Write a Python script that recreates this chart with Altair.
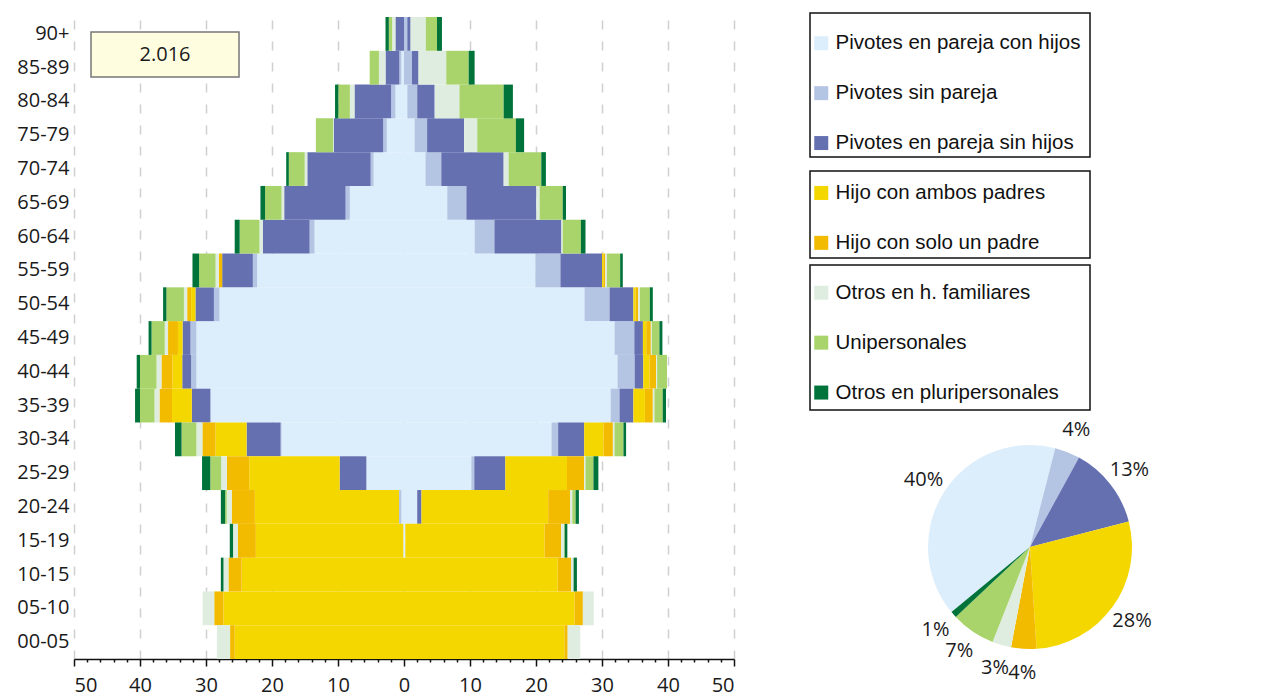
import math
import altair as alt
import pandas as pd

ages = ["90+", "85-89", "80-84", "75-79", "70-74", "65-69", "60-64", "55-59",
        "50-54", "45-49", "40-44", "35-39", "30-34", "25-29", "20-24", "15-19",
        "10-15", "05-10", "00-05"]

categories = ["Pivotes en pareja con hijos", "Pivotes sin pareja", "Pivotes en pareja sin hijos",
              "Hijo con ambos padres", "Hijo con solo un padre", "Otros en h. familiares",
              "Unipersonales", "Otros en pluripersonales"]
colors = ["#DCEDFB", "#B4C5E4", "#6570B1", "#F5D700", "#F2BB00", "#DFEDE1", "#A8D46B", "#00733A"]

# left half (ages top to bottom)
left_ppch = [0.0, 0.4, 1.3, 2.6, 4.6, 8.2, 13.55, 22.25, 27.95, 31.45, 31.45, 29.25, 18.55, 5.7, 0.4, 0.1, 0, 0, 0]
left_psp = [0.0, 0.3, 0.65, 0.55, 0.45, 0.65, 0.75, 0.65, 0.85, 0.9, 0.8, 0.1, 0.15, 0, 0.35, 0, 0, 0, 0]
left_ppsh = [1.3, 2.1, 5.55, 7.5, 9.6, 9.3, 7.1, 4.65, 2.8, 1.2, 1.35, 2.8, 5.15, 4.05, 0, 0, 0, 0, 0]
left_hap = [0, 0, 0, 0, 0, 0, 0, 0, 0.65, 0.7, 1.5, 3.0, 4.7, 13.7, 21.85, 22.35, 24.6, 27.35, 25.65]
left_hsp = [0, 0, 0, 0, 0, 0, 0, 0.5, 0.6, 1.5, 1.65, 1.9, 2.0, 3.4, 3.5, 2.7, 2.0, 1.4, 0.7]
left_ohf = [0.5, 1.0, 0.7, 0.1, 0.4, 0.4, 0.5, 0.5, 0.5, 0.5, 0.75, 0.75, 0.9, 0.85, 0.75, 0.75, 0.75, 1.75, 2.0]
left_uni = [0.5, 1.4, 1.75, 2.6, 2.4, 2.5, 3.0, 2.5, 2.65, 2.0, 2.5, 2.2, 2.25, 1.65, 0.25, 0, 0, 0, 0]
left_opl = [0.5, 0, 0.5, 0, 0.4, 0.7, 0.75, 1.0, 0.5, 0.45, 0.5, 0.75, 1.0, 1.25, 0.65, 0.5, 0.4, 0, 0]

# right half
right_ppch = [0.0, 0.0, 0.5, 1.6, 3.25, 6.55, 10.7, 19.9, 27.35, 31.9, 32.35, 31.3, 22.35, 10.2, 2.0, 0.2, 0, 0, 0]
right_psp = [0.5, 1.2, 1.5, 1.9, 2.4, 2.9, 3.0, 3.8, 3.8, 3.0, 2.6, 1.35, 1.0, 0.45, 0, 0, 0, 0, 0]
right_ppsh = [0.5, 1.0, 2.65, 5.6, 9.45, 10.6, 10.15, 6.3, 3.6, 1.3, 1.3, 2.1, 3.95, 4.7, 0.65, 0, 0, 0, 0]
right_hap = [0, 0, 0, 0, 0, 0, 0, 0.2, 0.35, 0.5, 0.95, 1.75, 2.95, 9.35, 19.2, 21.1, 23.3, 25.85, 24.3]
right_hsp = [0, 0, 0, 0, 0, 0, 0, 0.3, 0.4, 0.7, 1.0, 1.2, 1.4, 2.6, 3.3, 2.5, 2.0, 1.25, 0.5]
right_ohf = [2.3, 4.2, 3.75, 2.0, 0.75, 0.5, 0.2, 0.25, 0.25, 0.15, 0.15, 0.25, 0.25, 0.2, 0.35, 0.45, 0.4, 1.65, 1.9]
right_uni = [1.7, 3.4, 6.7, 5.85, 4.95, 3.5, 2.75, 2.0, 1.5, 1.15, 1.5, 1.25, 1.35, 1.2, 0.5, 0.1, 0, 0, 0]
right_opl = [0.75, 0.9, 1.4, 1.25, 0.7, 0.5, 0.7, 0.4, 0.45, 0.45, 0, 0.5, 0.4, 0.75, 0.5, 0.4, 0.5, 0, 0]

# pie
pie_pct = [40, 4, 13, 28, 4, 3, 7, 1]
pie_order = [7, 0, 1, 2, 3, 4, 5, 6]
year_label = "2.016"

left_vals = [left_ppch, left_psp, left_ppsh, left_hap, left_hsp, left_ohf, left_uni, left_opl]
right_vals = [right_ppch, right_psp, right_ppsh, right_hap, right_hsp, right_ohf, right_uni, right_opl]

rows = []
for ci, cat in enumerate(categories):
    for ai, age in enumerate(ages):
        lv = left_vals[ci][ai]
        rv = right_vals[ci][ai]
        if lv > 0:
            rows.append({"age": age, "cat": cat, "idx": ci, "value": -lv})
        if rv > 0:
            rows.append({"age": age, "cat": cat, "idx": ci, "value": rv})
df = pd.DataFrame(rows)

FONT = "Open Sans"
color_scale = alt.Scale(domain=categories, range=colors)

x_axis = alt.Axis(
    title=None,
    values=list(range(-50, 51, 2)),
    labelExpr="datum.value % 10 === 0 ? abs(datum.value) : ''",
    labelFont=FONT, labelFontSize=20, labelColor="#1a1a1a", labelPadding=9,
    domainColor="#111111", domainWidth=1.5,
    tickColor="#111111", tickWidth=1.5,
    tickSize={"condition": {"test": "datum.value % 10 === 0", "value": 7}, "value": 3},
    grid=True, gridDash=[9, 12], gridColor="#d0d0d0", gridWidth=1.5,
    gridOpacity={"condition": {"test": "datum.value % 10 === 0", "value": 1}, "value": 0},
)

bars = alt.Chart(df).mark_bar().encode(
    x=alt.X("value:Q", stack="zero", scale=alt.Scale(domain=[-50, 50], nice=False), axis=x_axis),
    y=alt.Y("age:N", sort=ages, scale=alt.Scale(paddingInner=0, paddingOuter=0),
            axis=alt.Axis(title=None, ticks=False, domain=False, labelFont=FONT, labelFontSize=20,
                          labelColor="#1a1a1a", labelPadding=5)),
    color=alt.Color("cat:N", scale=color_scale, sort=categories,
                    legend=alt.Legend(title=None, orient="none", legendX=737, legendY=16,
                                      symbolType="square", symbolSize=196, symbolStrokeWidth=0,
                                      labelFont="Liberation Sans", labelFontSize=20.5, labelColor="#111111",
                                      labelLimit=400, rowPadding=28.9, labelOffset=4, padding=0)),
    order=alt.Order("idx:Q", sort="ascending"),
)

one = pd.DataFrame({"k": [0]})


def box(x1, x2, y1, y2, fill, stroke, fill_opacity=1.0):
    return alt.Chart(one).mark_rect(fill=fill, fillOpacity=fill_opacity, stroke=stroke, strokeWidth=1.5).encode(
        x=alt.value(x1), x2=alt.value(x2), y=alt.value(y1), y2=alt.value(y2))


year_box = box(17, 165, 15, 60, "#FEFDE0", "#777777")
year_text = alt.Chart(pd.DataFrame({"t": [year_label]})).mark_text(
    font=FONT, fontSize=20, color="#1a1a1a", align="center", baseline="middle").encode(
    x=alt.value(91), y=alt.value(38), text="t:N")

leg1 = box(736, 1016, -4, 140, "white", "#111111", 0)
leg2 = box(736, 1016, 154, 241, "white", "#111111", 0)
leg3 = box(736, 1016, 248, 393, "white", "#111111", 0)

pie_df = pd.DataFrame({"cat": categories, "pct": pie_pct, "ord": pie_order,
                       "label": [f"{p}%" for p in pie_pct]})
start = 0.25
theta_scale = alt.Scale(domain=[0, 100], range=[start, start + 2 * math.pi])
CX, CY, R = 956, 530, 102

pie = alt.Chart(pie_df).mark_arc(radius=R).encode(
    theta=alt.Theta("pct:Q", stack=True, scale=theta_scale),
    color=alt.Color("cat:N", scale=color_scale, sort=categories),
    order=alt.Order("ord:Q", sort="ascending"),
    x=alt.value(CX), y=alt.value(CY),
)
pie_text = alt.Chart(pie_df).mark_text(radius=R + 24, font=FONT, fontSize=20, color="#1a1a1a",
                                        align="center", baseline="middle").encode(
    theta=alt.Theta("pct:Q", stack=True, scale=theta_scale),
    detail="cat:N",
    order=alt.Order("ord:Q", sort="ascending"),
    text="label:N",
    x=alt.value(CX), y=alt.value(CY),
)

chart = alt.layer(bars, year_box, year_text, leg1, leg2, leg3, pie, pie_text).properties(
    width=660, height=642,
    padding={"left": 8, "top": 4, "right": 5, "bottom": 5},
).configure_view(stroke=None)

chart.save("out.html", embed_options={"renderer": "svg", "actions": False})
